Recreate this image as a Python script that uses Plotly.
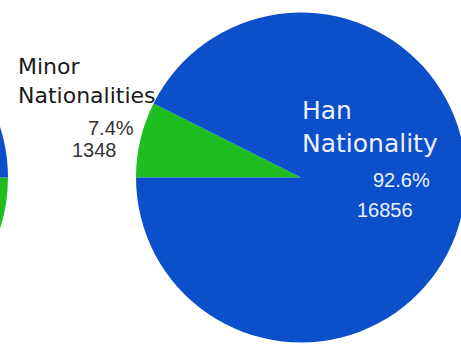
import plotly.graph_objects as go

# ---- data ----
categories = ["Minor Nationalities", "Han Nationality"]
values = [1348, 16856]
percent_labels = ["7.4%", "92.6%"]
value_labels = ["1348", "16856"]
# partially visible neighbouring pie at the left edge (estimated)
left_categories = ["Minor Nationalities", "Han Nationality"]
left_values = [1500, 15000]

colors = ["#1fbd1f", "#0b4fcb"]

# ---- canvas geometry (figure is wider than the window and shifted left) ----
OFF = 330
W = 810
H = 344


def px(sx):
    return (sx + OFF) / W


def py(sy):
    return 1 - sy / H


fig = go.Figure()

fig.add_trace(go.Pie(
    labels=left_categories, values=left_values, sort=False,
    direction="clockwise", rotation=90,
    marker=dict(colors=colors, line=dict(width=0)),
    textinfo="none", hoverinfo="skip", showlegend=False,
    domain=dict(x=[px(-157 - 165), px(-157 + 165)], y=[py(342.5), py(12.5)]),
))

fig.add_trace(go.Pie(
    labels=categories, values=values, sort=False,
    direction="clockwise", rotation=270,
    marker=dict(colors=colors, line=dict(width=0)),
    textinfo="none", hoverinfo="skip", showlegend=False,
    domain=dict(x=[px(301 - 165), px(301 + 165)], y=[py(342.5), py(12.5)]),
))


def ann(text, sx, sy, size, color, family="DejaVu Sans"):
    fig.add_annotation(
        text=text, x=px(sx), y=py(sy), xref="paper", yref="paper",
        xanchor="left", yanchor="top", align="left", showarrow=False,
        font=dict(family=family, size=size, color=color),
    )


ann("Minor<br>Nationalities", 16, 52, 22, "#1a1a1a")
ann(percent_labels[0], 86, 115, 20, "#333333", "Liberation Sans")
ann(value_labels[0], 70, 137, 20, "#333333", "Liberation Sans")
ann("Han<br>Nationality", 300, 94, 25, "#eef2ff")
ann(percent_labels[1], 371, 167, 20, "#eef2ff", "Liberation Sans")
ann(value_labels[1], 355, 197, 20, "#eef2ff", "Liberation Sans")

fig.update_layout(
    width=W, height=H,
    margin=dict(l=0, r=0, t=0, b=0),
    paper_bgcolor="white", plot_bgcolor="white",
)

post = (
    "document.body.style.margin='0';"
    "document.body.style.overflow='hidden';"
    "var gd=document.getElementById('{plot_id}');"
    "gd.style.marginLeft='-" + str(OFF) + "px';"
)
fig.write_html("out.html", post_script=post, config={"displayModeBar": False})
